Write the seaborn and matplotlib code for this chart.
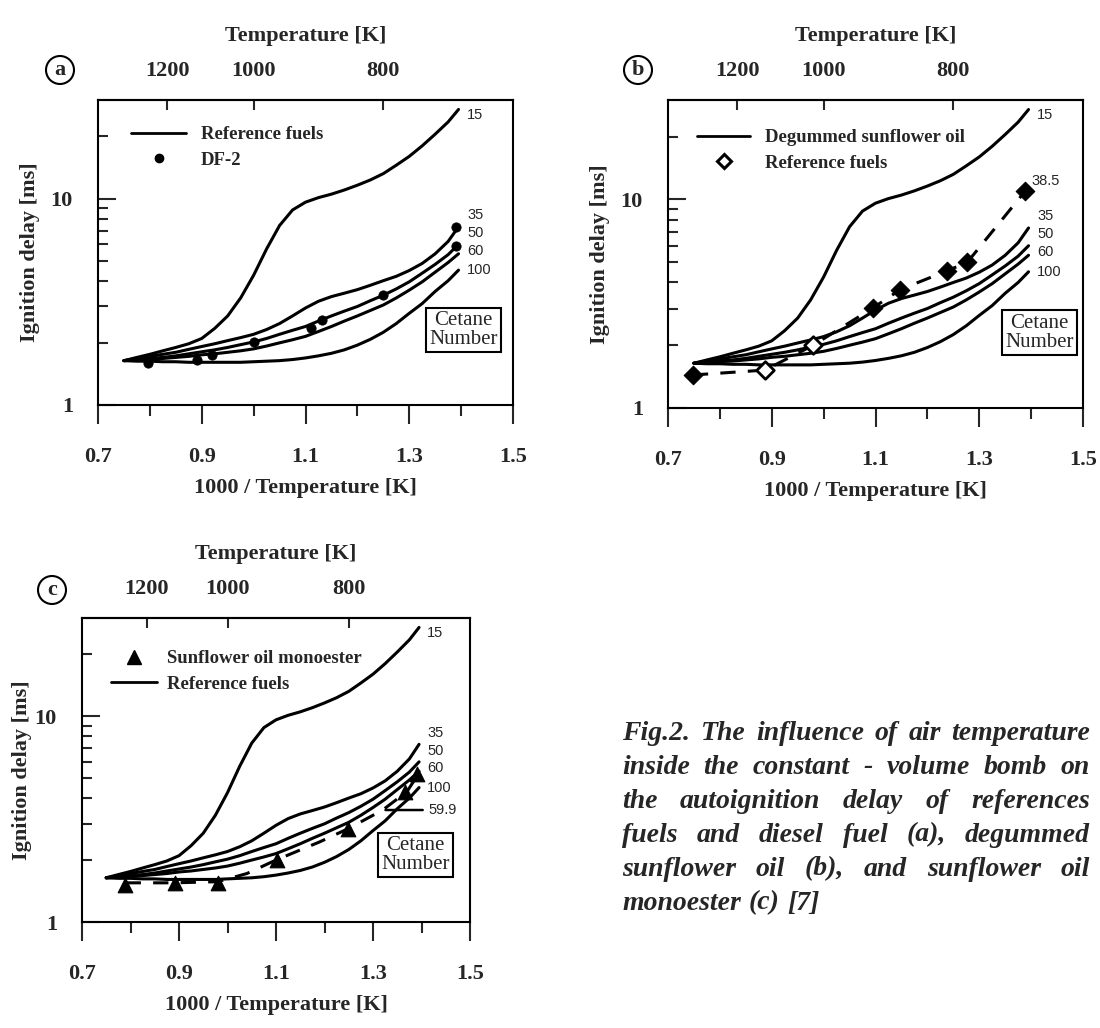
"""
点火延迟随空气温度变化 (参比燃料 / DF-2 / 脱胶葵花油 / 葵花油单酯)
三个小图 + 右下角图注
"""
##
import numpy as np
import pandas as pd
import seaborn as sns
import matplotlib.pyplot as plt
from matplotlib.lines import Line2D
from matplotlib.ticker import FixedLocator, FixedFormatter, NullFormatter, NullLocator

##
# 参比燃料曲线 (1000/T, 点火延迟 ms), 按十六烷值
inv_temp = [0.75, 0.775, 0.80, 0.825, 0.85, 0.875, 0.90, 0.925, 0.95, 0.975, 1.00, 1.025, 1.05, 1.075,
            1.10, 1.125, 1.15, 1.175, 1.20, 1.225, 1.25, 1.275, 1.30, 1.325, 1.35, 1.375, 1.395]
cn15 = [1.64, 1.70, 1.76, 1.83, 1.90, 1.98, 2.10, 2.35, 2.70, 3.30, 4.25, 5.70, 7.40, 8.80,
        9.60, 10.1, 10.5, 11.0, 11.6, 12.3, 13.2, 14.5, 16.0, 18.0, 20.5, 23.5, 27.0]
cn35 = [1.64, 1.68, 1.72, 1.76, 1.80, 1.86, 1.92, 1.98, 2.05, 2.12, 2.20, 2.32, 2.48, 2.70,
        2.95, 3.18, 3.35, 3.48, 3.62, 3.80, 4.00, 4.20, 4.48, 4.85, 5.40, 6.20, 7.30]
cn50 = [1.64, 1.66, 1.68, 1.70, 1.73, 1.77, 1.81, 1.85, 1.90, 1.96, 2.02, 2.10, 2.20, 2.30,
        2.40, 2.55, 2.70, 2.85, 3.00, 3.20, 3.40, 3.65, 3.95, 4.35, 4.80, 5.35, 6.00]
cn60 = [1.64, 1.65, 1.67, 1.68, 1.70, 1.72, 1.75, 1.77, 1.80, 1.83, 1.87, 1.93, 2.00, 2.07,
        2.15, 2.27, 2.40, 2.55, 2.70, 2.87, 3.05, 3.30, 3.60, 3.95, 4.40, 4.90, 5.40]
cn100 = [1.64, 1.63, 1.63, 1.62, 1.62, 1.61, 1.61, 1.61, 1.61, 1.61, 1.62, 1.63, 1.64, 1.66,
         1.69, 1.73, 1.78, 1.85, 1.95, 2.08, 2.25, 2.48, 2.78, 3.10, 3.55, 4.00, 4.50]
cetane_numbers = ['15', '35', '50', '60', '100']

# DF-2 (a)
df2_x = [0.797, 0.89, 0.92, 1.00, 1.111, 1.132, 1.25, 1.39, 1.39]
df2_y = [1.60, 1.66, 1.74, 2.02, 2.37, 2.58, 3.40, 5.90, 7.30]

# 脱胶葵花油 (b), CN 38.5
degum_x = [0.748, 0.887, 0.98, 1.096, 1.148, 1.238, 1.277, 1.389]
degum_y = [1.44, 1.52, 2.00, 3.03, 3.70, 4.55, 5.00, 11.0]
degum_open = [False, True, True, False, False, False, False, False]

# 葵花油单酯 (c), CN 59.9
mono_x = [0.789, 0.892, 0.981, 1.102, 1.249, 1.366, 1.39]
mono_y = [1.52, 1.55, 1.55, 2.00, 2.83, 4.30, 5.25]
cn599_x = [0.79, 0.89, 0.98, 1.04, 1.10, 1.19, 1.25, 1.32, 1.37, 1.395]
cn599_y = [1.55, 1.55, 1.57, 1.72, 2.00, 2.45, 2.85, 3.50, 4.30, 5.30]

caption_lines = [
    "Fig.2. The influence of air temperature",
    "inside the constant - volume bomb on",
    "the autoignition delay of references",
    "fuels and diesel fuel  (a), degummed",
    "sunflower oil (b), and sunflower  oil",
    "monoester (c) [7]",
]

ref_df = pd.DataFrame({
    'inv_T': inv_temp * 5,
    'delay': cn15 + cn35 + cn50 + cn60 + cn100,
    'cn': np.repeat(cetane_numbers, len(inv_temp)),
})

##
sns.set_theme(style='ticks')
plt.rcParams['font.family'] = ['Liberation Serif', 'DejaVu Serif']
plt.rcParams['font.weight'] = 'bold'
plt.rcParams['axes.labelweight'] = 'bold'

W, H = 1100, 1028
fig = plt.figure(figsize=(11, 10.28), dpi=100)


def px_box(l, t, r, b):
    return [l / W, 1 - b / H, (r - l) / W, (b - t) / H]


def inv(x):
    x = np.asarray(x, dtype=float)
    with np.errstate(divide='ignore', invalid='ignore'):
        return 1000.0 / x


def style_axes(ax, ylabelpad=8):
    ax.set_yscale('log')
    ax.set_xlim(0.7, 1.5)
    ax.set_ylim(1, 30)
    ax.set_xticks([0.7, 0.9, 1.1, 1.3, 1.5])
    ax.set_xticklabels(['0.7', '0.9', '1.1', '1.3', '1.5'])
    ax.set_xticks([0.8, 1.0, 1.2, 1.4], minor=True)
    ax.yaxis.set_major_locator(FixedLocator([1, 10]))
    ax.yaxis.set_major_formatter(FixedFormatter(['1', '10']))
    ax.yaxis.set_minor_locator(FixedLocator([2, 3, 4, 5, 6, 7, 8, 9, 20]))
    ax.yaxis.set_minor_formatter(NullFormatter())
    ax.tick_params(axis='x', which='major', direction='out', length=14, width=1.5, pad=16, labelsize=16)
    ax.tick_params(axis='x', which='minor', direction='out', length=8, width=1.5)
    ax.tick_params(axis='y', which='major', direction='in', length=13, width=1.5, pad=18, labelsize=16)
    ax.tick_params(axis='y', which='minor', direction='in', length=7, width=1.5)
    ax.tick_params(top=False, right=False, which='both')
    for s in ax.spines.values():
        s.set_visible(True)
        s.set_linewidth(1.5)
        s.set_color('black')
    ax.set_xlabel('1000 / Temperature [K]', fontsize=16, labelpad=8)
    ax.set_ylabel('Ignition delay [ms]', fontsize=16, labelpad=ylabelpad)
    sec = ax.secondary_xaxis('top', functions=(inv, inv))
    sec.set_xticks([1200, 1000, 800])
    sec.set_xticklabels(['1200', '1000', '800'])
    sec.xaxis.set_minor_locator(NullLocator())
    sec.tick_params(direction='in', length=7, width=1.5, pad=14, labelsize=16)
    sec.spines['top'].set_linewidth(1.5)
    sec.set_xlabel('Temperature [K]', fontsize=16, labelpad=14)


def draw_reference(ax, label_y):
    sns.lineplot(data=ref_df, x='inv_T', y='delay', units='cn', estimator=None, sort=False,
                 color='black', linewidth=2.2, legend=False, ax=ax)
    for cn, y in label_y.items():
        ax.text(1.412, y, cn, fontsize=10.5, family='Liberation Sans', weight='normal', va='center')


def cetane_box(ax, cx, cy):
    ax.text(cx, cy, 'Cetane\nNumber', transform=ax.transAxes, ha='center', va='center',
            fontsize=15, weight='normal', linespacing=1.0,
            bbox=dict(boxstyle='square,pad=0.15', fc='white', ec='black', lw=1.5))


def circled(x, y, letter):
    fig.text(x / W, 1 - y / H, letter, ha='center', va='center', fontsize=16,
             bbox=dict(boxstyle='circle,pad=0.18', fc='white', ec='black', lw=1.5))


label_y = {'15': 25.5, '35': 8.3, '50': 6.8, '60': 5.6, '100': 4.5}
leg_prop = dict(size=13.5, weight='bold', family='Liberation Serif')

##
# (a) 参比燃料 + DF-2
ax_a = fig.add_axes(px_box(98, 100, 513, 405))
draw_reference(ax_a, label_y)
sns.scatterplot(x=df2_x, y=df2_y, color='black', s=45, edgecolor='black', zorder=5, legend=False, ax=ax_a)
style_axes(ax_a)
ax_a.legend([Line2D([], [], color='black', lw=2),
             Line2D([], [], marker='o', ls='', color='black', ms=6)],
            ['Reference fuels', 'DF-2'], loc='upper left', bbox_to_anchor=(0.04, 0.97),
            frameon=False, handlelength=2.9, handletextpad=0.8, labelspacing=0.45, prop=leg_prop)
cetane_box(ax_a, 0.88, 0.245)
circled(60, 70, 'a')

##
# (b) 脱胶葵花油
ax_b = fig.add_axes(px_box(668, 100, 1083, 408))
draw_reference(ax_b, label_y)
sns.lineplot(x=degum_x, y=degum_y, color='black', linewidth=2.2, linestyle=(0, (5, 4)),
             estimator=None, sort=False, ax=ax_b)
filled = [(x, y) for x, y, o in zip(degum_x, degum_y, degum_open) if not o]
hollow = [(x, y) for x, y, o in zip(degum_x, degum_y, degum_open) if o]
sns.scatterplot(x=[p[0] for p in filled], y=[p[1] for p in filled], marker='D', s=90,
                color='black', edgecolor='black', zorder=5, legend=False, ax=ax_b)
sns.scatterplot(x=[p[0] for p in hollow], y=[p[1] for p in hollow], marker='D', s=80,
                facecolor='white', edgecolor='black', linewidth=2, zorder=5, legend=False, ax=ax_b)
ax_b.text(1.40, 12.2, '38.5', fontsize=10.5, family='Liberation Sans', weight='normal', va='center')
style_axes(ax_b)
ax_b.legend([Line2D([], [], color='black', lw=2),
             Line2D([], [], marker='D', ls='', mfc='white', mec='black', mew=2.2, ms=7)],
            ['Degummed sunflower oil', 'Reference fuels'], loc='upper left', bbox_to_anchor=(0.03, 0.96),
            frameon=False, handlelength=2.8, handletextpad=0.8, labelspacing=0.45, prop=leg_prop)
cetane_box(ax_b, 0.895, 0.245)
circled(638, 70, 'b')

##
# (c) 葵花油单酯
ax_c = fig.add_axes(px_box(82, 618, 470, 922))
draw_reference(ax_c, label_y)
sns.lineplot(x=cn599_x, y=cn599_y, color='black', linewidth=2.2, linestyle=(0, (5, 4)),
             estimator=None, sort=False, ax=ax_c)
sns.scatterplot(x=mono_x, y=mono_y, marker='^', s=110, color='black', edgecolor='black',
                zorder=5, legend=False, ax=ax_c)
ax_c.annotate('59.9', xy=(1.32, 3.5), xytext=(1.415, 3.5), fontsize=10.5, family='Liberation Sans',
              weight='normal', va='center', arrowprops=dict(arrowstyle='-', color='black', lw=1.8))
style_axes(ax_c, ylabelpad=2)
ax_c.legend([Line2D([], [], marker='^', ls='', color='black', ms=10),
             Line2D([], [], color='black', lw=2)],
            ['Sunflower oil monoester', 'Reference fuels'], loc='upper left', bbox_to_anchor=(0.03, 0.95),
            frameon=False, handlelength=2.5, handletextpad=0.5, labelspacing=0.45, prop=leg_prop)
cetane_box(ax_c, 0.86, 0.22)
circled(52, 590, 'c')

##
# 图注, 两端对齐
renderer = fig.canvas.get_renderer()
x0, x1, y0, dy = 622, 1090, 733, 34
for i, line in enumerate(caption_lines):
    words = line.split()
    yy = 1 - (y0 + i * dy) / H
    texts = [fig.text(0, yy, w, fontsize=20, style='italic', weight='bold', va='center') for w in words]
    widths = [t.get_window_extent(renderer).width for t in texts]
    if i == len(caption_lines) - 1:
        gap = 0.28 * 20 * 100 / 72
    else:
        gap = (x1 - x0 - sum(widths)) / (len(words) - 1)
    x = x0
    for t, w in zip(texts, widths):
        t.set_x(x / W)
        x += w + gap

fig.savefig('out.png', dpi=100)
